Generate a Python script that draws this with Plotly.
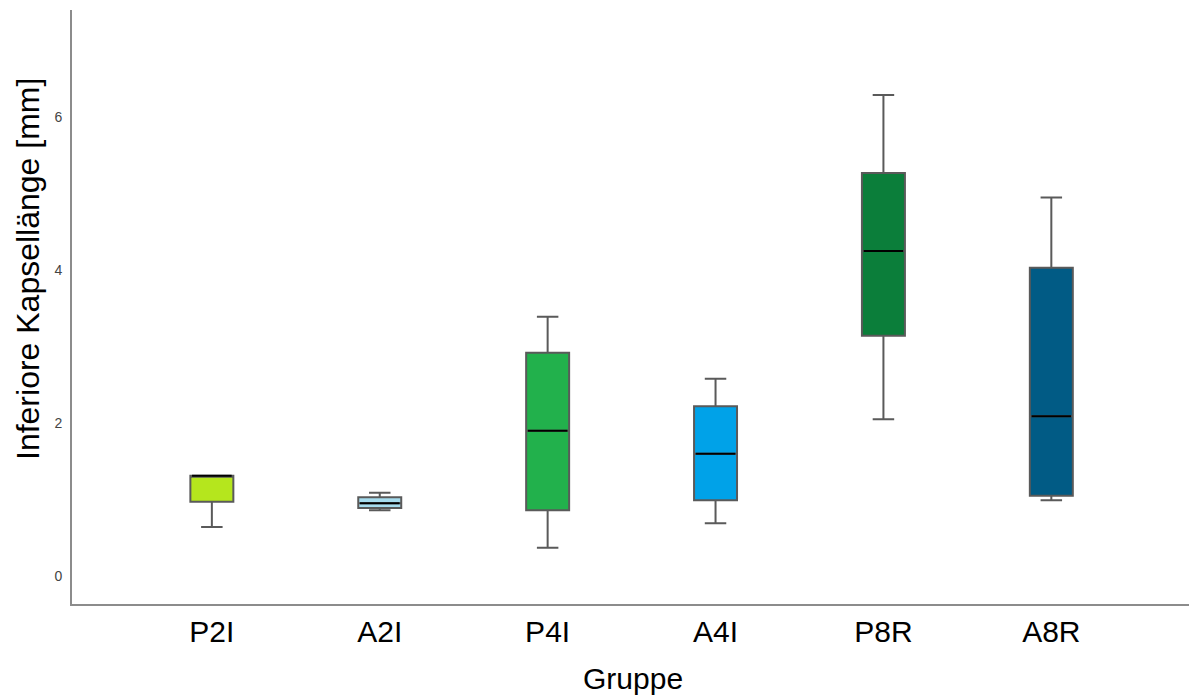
import plotly.graph_objects as go

categories = ["P2I", "A2I", "P4I", "A4I", "P8R", "A8R"]
lower = [0.64, 0.86, 0.37, 0.69, 2.05, 0.99]
q1 = [0.97, 0.89, 0.86, 0.99, 3.14, 1.05]
median = [1.31, 0.95, 1.90, 1.60, 4.25, 2.09]
q3 = [1.31, 1.03, 2.92, 2.22, 5.27, 4.03]
upper = [1.31, 1.09, 3.39, 2.58, 6.29, 4.95]
colors = ["#b5e61d", "#a6dcee", "#22b14c", "#00a2e8", "#0b7e3a", "#015b85"]

box_w = 0.256
fig = go.Figure()
for i, c in enumerate(categories):
    fig.add_trace(go.Box(
        x=[i], q1=[q1[i]], median=[median[i]], q3=[q3[i]],
        lowerfence=[lower[i]], upperfence=[upper[i]],
        fillcolor=colors[i], line=dict(color="#5a5a5a", width=2),
        width=box_w, whiskerwidth=0.5, boxpoints=False, showlegend=False,
        hoverinfo="skip",
    ))
    fig.add_trace(go.Scatter(
        x=[i - box_w / 2 + 0.01, i + box_w / 2 - 0.01], y=[median[i], median[i]],
        mode="lines", line=dict(color="black", width=2), showlegend=False,
        hoverinfo="skip",
    ))

W, H = 1189, 697
L, R, T, B = 72, 0, 10, 93
pw, ph = W - L - R, H - T - B

fig.update_layout(
    width=W, height=H,
    margin=dict(l=L, r=R, t=T, b=B),
    plot_bgcolor="white", paper_bgcolor="white",
    font=dict(family="Liberation Sans, Arial, sans-serif"),
    annotations=[
        dict(text="Inferiore Kapsellänge [mm]", textangle=-90, showarrow=False,
             xref="paper", yref="paper", x=(28 - L) / pw, y=(T + ph - 269) / ph,
             xanchor="center", yanchor="middle",
             font=dict(size=32, color="black")),
        dict(text="Gruppe", showarrow=False,
             xref="paper", yref="paper", x=(633 - L) / pw, y=-(678 - (T + ph)) / ph,
             xanchor="center", yanchor="middle",
             font=dict(size=30, color="black")),
    ],
)
fig.update_xaxes(
    range=[-0.833, 5.82], tickvals=list(range(len(categories))), ticktext=categories,
    showgrid=False, zeroline=False, showline=True, linecolor="#8c8c8c", linewidth=2,
    ticks="", ticklabelstandoff=0,
    tickfont=dict(size=30, color="black"),
)
fig.update_yaxes(
    range=[-0.366, 7.4], tickvals=[0, 2, 4, 6],
    showgrid=False, zeroline=False, showline=True, linecolor="#8c8c8c", linewidth=2,
    ticks="", ticklabelstandoff=5,
    tickfont=dict(size=14, color="#444444"),
)
fig.write_html("out.html")
